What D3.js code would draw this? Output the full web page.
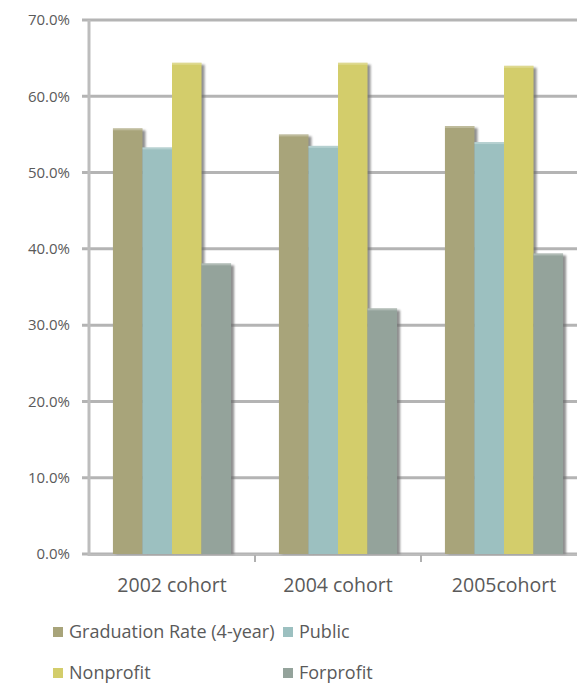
<!DOCTYPE html>
<html>
<head>
<meta charset="utf-8">
<script src="https://cdn.jsdelivr.net/npm/d3@7"></script>
<style>
  html, body { margin: 0; padding: 0; background: #fff; overflow: hidden; }
  svg { display: block; }
  text { font-family: "Open Sans", "Liberation Sans", sans-serif; fill: #555; }
</style>
</head>
<body>
<svg id="chart" width="577" height="684"></svg>
<script>
// Cohorts along the x axis
const cohorts = ["2002 cohort", "2004 cohort", "2005cohort"];
// Series (one bar per cohort each)
const seriesNames = ["Graduation Rate (4-year)", "Public", "Nonprofit", "Forprofit"];
const gradRate  = [55.8, 55.0, 56.1];
const publicRate = [53.3, 53.5, 54.0];
const nonprofitRate = [64.4, 64.4, 64.0];
const forprofitRate = [38.1, 32.2, 39.4];
const seriesColors = ["#a8a47a", "#9cc0c0", "#d3cd6b", "#94a39b"];
// Y axis ticks (percent)
const yTicks = [0, 10, 20, 30, 40, 50, 60, 70];

const seriesValues = [gradRate, publicRate, nonprofitRate, forprofitRate];

const svg = d3.select("#chart");

const x0 = d3.scaleBand().domain(cohorts).range([89, 587]).paddingInner(0).paddingOuter(0);
const x1 = d3.scaleBand().domain(seriesNames).range([0, x0.bandwidth()]).paddingInner(0).paddingOuter(0.81);
const y = d3.scaleLinear().domain([0, 70]).range([554, 20]);

const defs = svg.append("defs");
defs.append("filter").attr("id", "shadowBlur").attr("x", "-50%").attr("width", "200%")
  .append("feGaussianBlur").attr("stdDeviation", 1.3);

// Gridlines
svg.append("g").selectAll("line").data(yTicks).join("line")
  .attr("x1", 82).attr("x2", 577)
  .attr("y1", d => y(d)).attr("y2", d => y(d))
  .attr("stroke", "#b4b4b4").attr("stroke-width", 3);

// Y axis
const yAxis = d3.axisLeft(y).tickValues(yTicks).tickSize(0).tickPadding(19)
  .tickFormat(d => d.toFixed(1) + "%");
const gy = svg.append("g").attr("transform", "translate(89,0)").call(yAxis);
gy.select(".domain").remove();
gy.selectAll("text").attr("font-size", 15).style("fill", "#5a5a5a");
svg.append("line").attr("x1", 89).attr("x2", 89).attr("y1", 20).attr("y2", 556)
  .attr("stroke", "#bdbdbd").attr("stroke-width", 3);

// X axis
const xAxis = d3.axisBottom(x0).tickSize(0).tickPadding(24);
const gx = svg.append("g").attr("transform", "translate(0,554)").call(xAxis);
gx.select(".domain").remove();
gx.selectAll("text").attr("font-size", 19.5).style("fill", "#5a5a5a");
svg.append("line").attr("x1", 89).attr("x2", 577).attr("y1", 555).attr("y2", 555)
  .attr("stroke", "#bdbdbd").attr("stroke-width", 2);
// category separator ticks
svg.append("g").selectAll("line").data(cohorts.slice(1)).join("line")
  .attr("x1", d => x0(d)).attr("x2", d => x0(d))
  .attr("y1", 555).attr("y2", 562)
  .attr("stroke", "#b0b0b0").attr("stroke-width", 2);

// Flatten bar data
const bars = [];
cohorts.forEach((c, i) => {
  seriesNames.forEach((s, j) => {
    bars.push({ cohort: c, series: s, value: seriesValues[j][i], color: seriesColors[j] });
  });
});

// Shadows behind bars
svg.append("g").selectAll("rect").data(bars).join("rect")
  .attr("x", d => x0(d.cohort) + x1(d.series) + 3)
  .attr("y", d => y(d.value) + 2)
  .attr("width", x1.bandwidth())
  .attr("height", d => y(0) - y(d.value) - 2)
  .attr("fill", "#6a6a6a")
  .attr("opacity", 0.75)
  .attr("filter", "url(#shadowBlur)");

// Bars
svg.append("g").selectAll("rect").data(bars).join("rect")
  .attr("x", d => x0(d.cohort) + x1(d.series))
  .attr("y", d => y(d.value))
  .attr("width", x1.bandwidth())
  .attr("height", d => y(0) - y(d.value))
  .attr("fill", d => d.color);

// Light top edge on each bar
svg.append("g").selectAll("rect").data(bars).join("rect")
  .attr("x", d => x0(d.cohort) + x1(d.series))
  .attr("y", d => y(d.value))
  .attr("width", x1.bandwidth())
  .attr("height", 2)
  .attr("fill", "#ffffff").attr("opacity", 0.25);

// Legend
const legendPos = [[53, 632], [283, 632], [53, 673], [283, 673]];
const lg = svg.append("g").selectAll("g").data(seriesNames).join("g")
  .attr("transform", (d, i) => `translate(${legendPos[i][0]},${legendPos[i][1]})`);
lg.append("rect").attr("x", 0).attr("y", -5).attr("width", 10).attr("height", 10)
  .attr("fill", (d, i) => seriesColors[i]);
lg.append("text").attr("x", 16).attr("y", 0).attr("dy", "0.35em")
  .attr("font-size", 18).style("fill", "#5a5a5a").text(d => d);
</script>
</body>
</html>
